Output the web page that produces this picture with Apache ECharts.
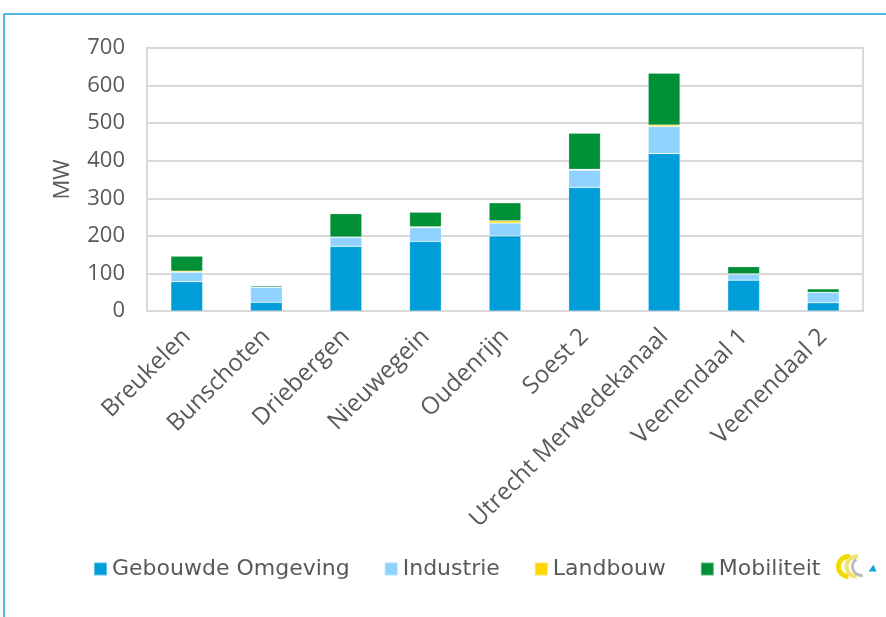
<!DOCTYPE html>
<html>
<head>
<meta charset="utf-8">
<script src="https://cdn.jsdelivr.net/npm/echarts@6/dist/echarts.min.js"></script>
<style>
  html, body { margin: 0; padding: 0; background: #fff; }
  #chart { width: 886px; height: 617px; }
</style>
</head>
<body>
<div id="chart"></div>
<script>
// Geplande vermogensvraag per onderstation (MW), gestapeld per sector
const stations = ['Breukelen', 'Bunschoten', 'Driebergen', 'Nieuwegein', 'Oudenrijn',
                  'Soest 2', 'Utrecht Merwedekanaal', 'Veenendaal 1', 'Veenendaal 2'];
const gebouwdeOmgeving = [78, 23, 172, 185, 200, 329, 419, 82, 22];
const industrie        = [25, 40, 24, 37, 34, 46, 72, 16, 27];
const landbouw         = [3, 0.5, 1, 2, 6, 2, 4, 1, 0.5];
const mobiliteit       = [40, 3.5, 62, 39, 48, 96, 138, 19, 9.5];
const yTicks = [0, 100, 200, 300, 400, 500, 600, 700];

const seriesDefs = [
  { name: 'Gebouwde Omgeving', data: gebouwdeOmgeving, color: '#009ED9' },
  { name: 'Industrie',         data: industrie,        color: '#8FD3FE' },
  { name: 'Landbouw',          data: landbouw,         color: '#FFD700' },
  { name: 'Mobiliteit',        data: mobiliteit,       color: '#009035' }
];

const textColor = '#595959';
const gridColor = '#D9D9D9';
const axisFont = 'Open Sans';

const chart = echarts.init(document.getElementById('chart'), null, { renderer: 'canvas' });

chart.setOption({
  animation: false,
  backgroundColor: '#ffffff',
  grid: {
    left: 147, right: 23, top: 48, bottom: 306,
    show: true, borderColor: gridColor, borderWidth: 2, backgroundColor: 'transparent'
  },
  legend: {
    data: seriesDefs.map(s => s.name),
    left: 88, top: 553,
    itemWidth: 13, itemHeight: 13, itemGap: 34,
    icon: 'rect',
    textStyle: { color: textColor, fontSize: 22, fontFamily: 'DejaVu Sans' }
  },
  xAxis: {
    type: 'category',
    data: stations,
    axisLine: { show: true, lineStyle: { color: gridColor, width: 2 } },
    axisTick: { show: false },
    axisLabel: {
      rotate: 45, interval: 0, margin: 22,
      color: textColor, fontSize: 24, fontFamily: axisFont
    }
  },
  yAxis: {
    type: 'value',
    min: yTicks[0], max: yTicks[yTicks.length - 1], interval: 100,
    name: 'MW', nameLocation: 'middle', nameGap: 73, nameRotate: 90,
    nameTextStyle: { color: textColor, fontSize: 22, fontFamily: axisFont },
    axisLine: { show: false },
    axisTick: { show: false },
    axisLabel: { color: textColor, fontSize: 22, fontFamily: axisFont, margin: 22 },
    splitLine: { show: true, lineStyle: { color: gridColor, width: 2 } }
  },
  series: seriesDefs.map(s => ({
    name: s.name,
    type: 'bar',
    stack: 'totaal',
    barWidth: '40%',
    data: s.data,
    itemStyle: { color: s.color, borderColor: 'rgba(255,255,255,0.35)', borderWidth: 0.6 },
    emphasis: { disabled: true }
  })),
  graphic: [
    // kader rond de figuur
    { type: 'line', shape: { x1: 4, y1: 14, x2: 886, y2: 14 }, style: { stroke: '#1AA0D8', lineWidth: 1.5 }, silent: true },
    { type: 'line', shape: { x1: 4, y1: 14, x2: 4, y2: 617 }, style: { stroke: '#1AA0D8', lineWidth: 1.5 }, silent: true },
    // klein logo rechts van de legenda
    {
      type: 'group', left: 836, top: 554, silent: true,
      children: [
        { type: 'arc', shape: { cx: 13, cy: 12, r: 10, startAngle: Math.PI * 0.5, endAngle: Math.PI * 1.55 },
          style: { stroke: '#F5DA00', lineWidth: 5, fill: null } },
        { type: 'arc', shape: { cx: 21, cy: 12, r: 10, startAngle: Math.PI * 0.5, endAngle: Math.PI * 1.55 },
          style: { stroke: '#EEE36A', lineWidth: 4, fill: null } },
        { type: 'arc', shape: { cx: 26, cy: 12, r: 9, startAngle: Math.PI * 0.45, endAngle: Math.PI * 1.3 },
          style: { stroke: '#BDBDBD', lineWidth: 3, fill: null } },
        { type: 'polygon', shape: { points: [[33, 17], [41, 17], [38, 10]] }, style: { fill: '#19A3DD' } }
      ]
    }
  ]
});
</script>
</body>
</html>
